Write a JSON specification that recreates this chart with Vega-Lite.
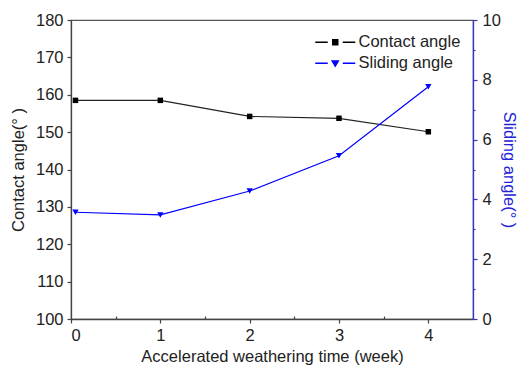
{
  "$schema": "https://vega.github.io/schema/vega-lite/v6.json",
  "width": 402,
  "height": 299,
  "autosize": "none",
  "padding": {"left": 71, "top": 20, "right": 48, "bottom": 48},
  "background": "white",
  "config": {
    "font": "Liberation Sans",
    "view": {"stroke": "#555", "strokeWidth": 1.2},
    "axis": {
      "labelFont": "Liberation Sans",
      "titleFont": "Liberation Sans",
      "labelFontSize": 16.5,
      "titleFontSize": 16.5,
      "titleFontWeight": "normal",
      "labelColor": "#222",
      "titleColor": "#222",
      "domainColor": "#444",
      "domainWidth": 1.3,
      "tickColor": "#444",
      "tickWidth": 1.2,
      "grid": false
    },
    "legend": {
      "labelFont": "Liberation Sans",
      "labelFontSize": 16.5,
      "labelColor": "#222"
    }
  },
  "data": {
    "values": [
      {"week": 0.05, "series": "Contact angle", "value": 158.5},
      {"week": 1, "series": "Contact angle", "value": 158.5},
      {"week": 2, "series": "Contact angle", "value": 154.2},
      {"week": 3, "series": "Contact angle", "value": 153.7},
      {"week": 4, "series": "Contact angle", "value": 150.1},
      {"week": 0.05, "series": "Sliding angle", "value": 3.57},
      {"week": 1, "series": "Sliding angle", "value": 3.48},
      {"week": 2, "series": "Sliding angle", "value": 4.28},
      {"week": 3, "series": "Sliding angle", "value": 5.46},
      {"week": 4, "series": "Sliding angle", "value": 7.77}
    ]
  },
  "layer": [
    {
      "transform": [{"filter": "datum.series === 'Contact angle'"}],
      "encoding": {
        "x": {
          "field": "week",
          "type": "quantitative",
          "scale": {"domain": [0, 4.5], "nice": false, "zero": false},
          "axis": {
            "title": "Accelerated weathering time (week)",
            "values": [0, 0.5, 1, 1.5, 2, 2.5, 3, 3.5, 4],
            "labelExpr": "datum.value % 1 === 0 ? format(datum.value, 'd') : ''",
            "tickSize": {"condition": {"test": "datum.value % 1 !== 0", "value": -3}, "value": 4},
            "labelPadding": 4,
            "titlePadding": 5
          }
        },
        "y": {
          "field": "value",
          "type": "quantitative",
          "scale": {"domain": [100, 180], "nice": false, "zero": false},
          "axis": {
            "title": "Contact angle(° )",
            "values": [100, 110, 120, 130, 140, 150, 160, 170, 180],
            "tickSize": 4,
            "labelPadding": 4,
            "titlePadding": 9
          }
        }
      },
      "layer": [
        {"mark": {"type": "line", "color": "#222", "strokeWidth": 1.2}},
        {"mark": {"type": "point", "shape": "square", "filled": true, "color": "#000", "size": 30, "opacity": 1}}
      ]
    },
    {
      "transform": [{"filter": "datum.series === 'Sliding angle'"}],
      "encoding": {
        "x": {"field": "week", "type": "quantitative"},
        "y": {
          "field": "value",
          "type": "quantitative",
          "scale": {"domain": [0, 10], "nice": false, "zero": false},
          "axis": {
            "orient": "right",
            "title": "Sliding angle(° )",
            "titleColor": "#2222dd",
            "domainColor": "#3333cc",
            "tickColor": "#3333cc",
            "values": [0, 1, 2, 3, 4, 5, 6, 7, 8, 9, 10],
            "labelExpr": "datum.value % 2 === 0 ? datum.label : ''",
            "tickSize": {"condition": {"test": "datum.value % 2 !== 0", "value": 2}, "value": 4},
            "labelPadding": 5,
            "titlePadding": 0
          }
        }
      },
      "layer": [
        {"mark": {"type": "line", "color": "#0000ff", "strokeWidth": 1.2}},
        {"mark": {"type": "point", "shape": "triangle-down", "filled": true, "color": "#0000ff", "size": 40, "opacity": 1}}
      ]
    },
    {
      "data": {"values": []},
      "mark": {"type": "point", "filled": true, "size": 100, "opacity": 1, "strokeWidth": 1.2},
      "encoding": {
        "fill": {
          "field": "series",
          "type": "nominal",
          "scale": {"domain": ["Contact angle", "Sliding angle"], "range": ["#000000", "#0000ff"]},
          "legend": {
            "title": null,
            "orient": "none",
            "legendX": 256,
            "legendY": 14,
            "labelOffset": 15,
            "rowPadding": 4,
            "padding": 0
          }
        },
        "stroke": {
          "field": "series",
          "type": "nominal",
          "scale": {"domain": ["Contact angle", "Sliding angle"], "range": ["#000000", "#0000ff"]},
          "legend": {
            "title": null,
            "orient": "none",
            "legendX": 256,
            "legendY": 14,
            "labelOffset": 15,
            "rowPadding": 4,
            "padding": 0
          }
        },
        "shape": {
          "field": "series",
          "type": "nominal",
          "scale": {
            "domain": ["Contact angle", "Sliding angle"],
            "range": [
              "M-4,0H-1.5M1.5,0H4M-0.5,-0.5H0.5V0.5H-0.5Z",
              "M-4,0H-1.5M1.5,0H4M-0.6,-0.45H0.6L0,0.55Z"
            ]
          },
          "legend": {
            "title": null,
            "orient": "none",
            "legendX": 256,
            "legendY": 14,
            "labelOffset": 15,
            "rowPadding": 4,
            "padding": 0
          }
        }
      }
    }
  ],
  "resolve": {"scale": {"y": "independent"}}
}
